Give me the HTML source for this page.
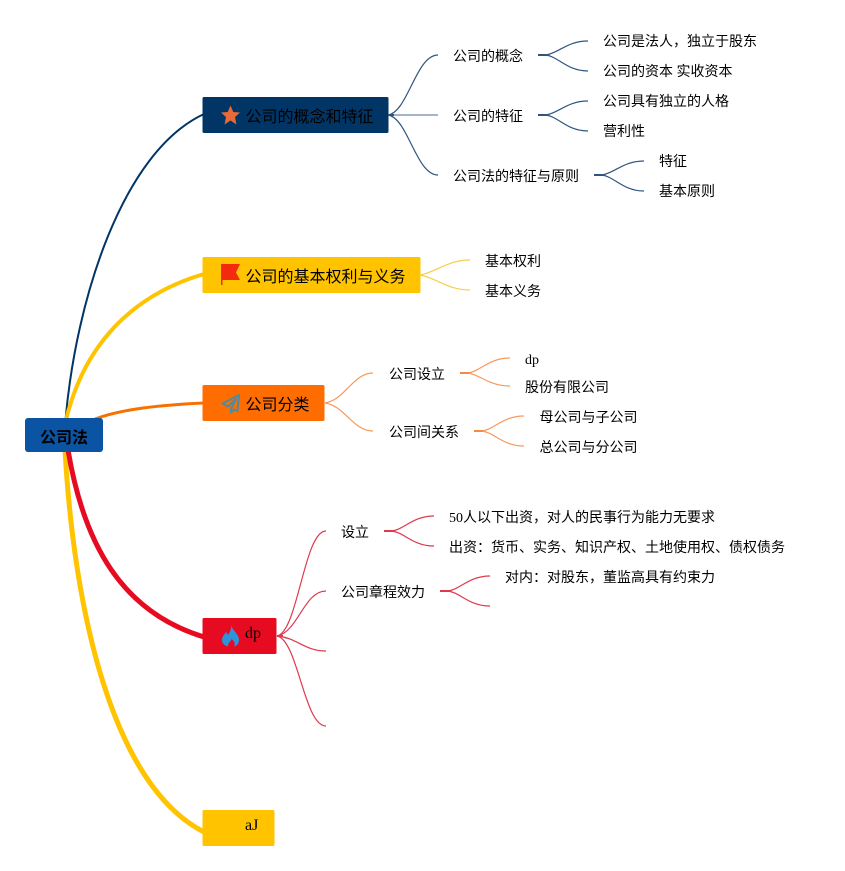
<!DOCTYPE html>
<html><head><meta charset="utf-8"><style>
html,body{margin:0;padding:0;background:#fff}
svg{display:block}
text{font-family:"Liberation Serif","WenQuanYi Zen Hei","Noto Sans CJK SC",sans-serif;font-size:14px;fill:#000}
.b{font-size:16px}
.r{font-size:16px;font-weight:700}
.t{fill:none;stroke-linecap:butt}
</style></head><body>
<svg width="845" height="871" viewBox="0 0 845 871" xmlns="http://www.w3.org/2000/svg">
<rect width="845" height="871" fill="#fff"/>
<!-- main connectors -->
<path class="t" stroke="#ffc300" stroke-width="5" d="M65 450C74 610 112 785 204 832"/>
<path class="t" stroke="#e60b21" stroke-width="5" d="M68 450C84 545 122 612 204 637"/>
<path class="t" stroke="#003566" stroke-width="2" d="M65.500 420C76 300 122 152 204 114"/>
<path class="t" stroke="#ffc300" stroke-width="4" d="M66 420C84 345 132 295 204 274"/>
<path class="t" stroke="#f77000" stroke-width="3" d="M95 419C122 409 160 405 204 403"/>
<!-- nodes -->
<rect x="25" y="418" width="78" height="34" rx="3" fill="#0a54a3"/>
<rect x="202.500" y="97" width="186" height="36" rx="1.500" fill="#003566"/>
<rect x="202.500" y="257" width="218" height="36" rx="1.500" fill="#ffc300"/>
<rect x="202.500" y="385" width="122" height="36" rx="1.500" fill="#ff6d00"/>
<rect x="202.500" y="618" width="74" height="36" rx="1.500" fill="#e60b21"/>
<rect x="202.500" y="810" width="72" height="36" rx="1.500" fill="#ffc300"/>
<!-- icons -->
<polygon fill="#e96a35" points="230.500,105.500 233.300,112 240,112.500 235,117.100 236.500,124.500 230.500,120.500 224.500,124.500 226,117.100 221,112.500 227.700,112"/>
<path fill="#f42a0f" d="M221 264H240L236 272.500L240 280H222.500V285H221Z"/>
<g fill="none" stroke="#4f8a9f" stroke-width="2" stroke-linejoin="round"><path d="M239 395L222.500 403.500L228 406.500L236 399L231 409V412.500L234 409.500L237.500 411Z"/></g>
<path fill="#2d93dc" d="M231 625C232 630 239 634 239 640C239 644 236.500 646 234 646.500C235.500 644 234.500 641 231.500 639C230.500 642 227.500 643 228 646.500C224.500 645.500 222 643.500 222 640C222 636.500 224.500 634.500 226 632C227 633 227.500 634 228 635C230 632 231.500 629 231 625Z"/>
<!-- level 2 connectors -->
<g class="t" fill="none" stroke="#2f5680" stroke-width="1.200">
<path d="M388 115C408 112 416 55 438 55"/>
<path d="M388 115H438" stroke="#6f88a8"/>
<path d="M388 115C408 118 416 175 438 175"/>
<path d="M546 55C559 53 567 41 588 41"/>
<path d="M546 55C559 57 567 71 588 71"/>
<path d="M546 115C559 113 567 101 588 101"/>
<path d="M546 115C559 117 567 131 588 131"/>
<path d="M602 175C615 173 623 161 644 161"/>
<path d="M602 175C615 177 623 191 644 191"/>
</g>
<g stroke="#2f5680" stroke-width="2" fill="none"><path d="M538 55H547M538 115H547M594 175H603M388 115H394"/></g>
<g fill="none" stroke="#f5cf4a" stroke-width="1.200">
<path d="M420 275C437 272 447 260 470 260"/>
<path d="M420 275C437 278 447 290 470 290"/>
</g>
<g fill="none" stroke="#f79a5c" stroke-width="1.200">
<path d="M325 403C345 400 353 373 373 373"/>
<path d="M325 403C345 406 353 431 373 431"/>
<path d="M468 373C481 371 489 358 510 358"/>
<path d="M468 373C481 375 489 386 510 386"/>
<path d="M482 431C495 429 503 416 524 416"/>
<path d="M482 431C495 433 503 446 524 446"/>
</g>
<g stroke="#f78a40" stroke-width="2" fill="none"><path d="M460 373H469M474 431H483"/></g>
<g fill="none" stroke="#e0394c" stroke-width="1.200">
<path d="M277 636C298 632 304 531 326 531"/>
<path d="M277 636C298 632 304 591 326 591"/>
<path d="M277 636C298 638 304 651 326 651"/>
<path d="M277 636C298 640 304 726 326 726"/>
<path d="M392 531C405 529 413 516 434 516"/>
<path d="M392 531C405 533 413 546 434 546"/>
<path d="M448 591C461 589 469 576 490 576"/>
<path d="M448 591C461 593 469 606 490 606"/>
</g>
<g stroke="#e0394c" stroke-width="2" fill="none"><path d="M384 531H393M440 591H449M277 636H283"/></g>
<!-- text -->
<text class="r" x="40" y="443">公司法</text>
<text class="b" x="245.500" y="122">公司的概念和特征</text>
<text class="b" x="245.500" y="282">公司的基本权利与义务</text>
<text class="b" x="245.500" y="410">公司分类</text>
<text class="b" x="245" y="638">dp</text>
<text class="b" x="245" y="830">aJ</text>
<text x="453" y="61">公司的概念</text>
<text x="453" y="121">公司的特征</text>
<text x="453" y="181">公司法的特征与原则</text>
<text x="603" y="46">公司是法人，独立于股东</text>
<text x="603" y="76">公司的资本 实收资本</text>
<text x="603" y="106">公司具有独立的人格</text>
<text x="603" y="136">营利性</text>
<text x="659" y="166">特征</text>
<text x="659" y="196">基本原则</text>
<text x="485" y="266">基本权利</text>
<text x="485" y="296">基本义务</text>
<text x="389" y="379">公司设立</text>
<text x="389" y="437">公司间关系</text>
<text x="525" y="364">dp</text>
<text x="525" y="392">股份有限公司</text>
<text x="539.500" y="422">母公司与子公司</text>
<text x="539.500" y="452">总公司与分公司</text>
<text x="341" y="537">设立</text>
<text x="341" y="597">公司章程效力</text>
<text x="449" y="522">50人以下出资，对人的民事行为能力无要求</text>
<text x="449" y="552">出资：货币、实务、知识产权、土地使用权、债权债务</text>
<text x="505" y="582">对内：对股东，董监高具有约束力</text>
</svg>
</body></html>
